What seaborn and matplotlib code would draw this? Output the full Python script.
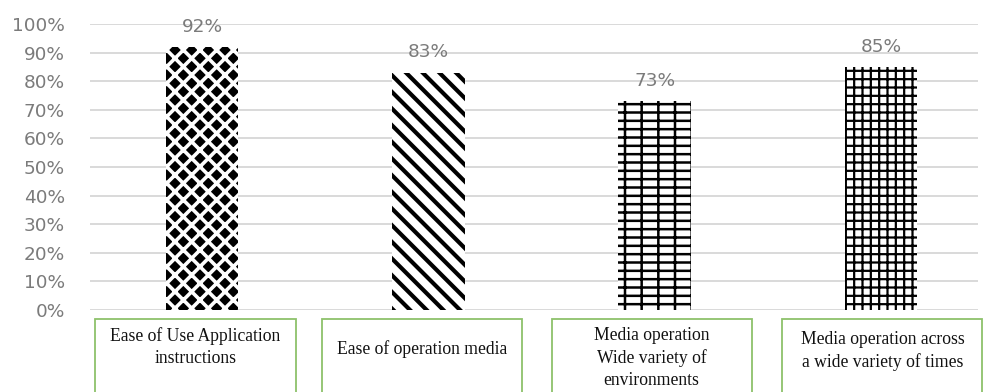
import matplotlib
matplotlib.use("Agg")
import matplotlib.pyplot as plt
import matplotlib.transforms as mtransforms
from matplotlib.patches import Rectangle
import seaborn as sns

# ---- data ----
categories = [
    "Ease of Use Application\ninstructions",
    "Ease of operation media",
    "Media operation\nWide variety of\nenvironments",
    "Media operation across\na wide variety of times",
]
values = [92, 83, 73, 85]
tick_values = [0, 10, 20, 30, 40, 50, 60, 70, 80, 90, 100]
tick_labels = [f"{v}%" for v in tick_values]

# ---- styles / layout ----
hatches = ["xx", "\\\\", "--|", "++"]
face_colors = ["black", "white", "white", "white"]
hatch_colors = ["white", "black", "black", "black"]
hatch_lws = [2.6, 3.0, 1.8, 1.6]
label_y = [-0.131, -0.136, -0.168, -0.143]
box_shift = [-0.03, -0.03, -0.013, 0.007]
GRAY = "#7b7b7b"
GREEN = "#8dc26b"

sns.set_theme(style="white")
plt.rcParams["font.family"] = ["DejaVu Sans"]

fig = plt.figure(figsize=(9.83, 3.92), dpi=100)
ax = fig.add_axes([0.0916, 0.2092, 0.9034, 0.7296])

sns.barplot(x=list(range(len(values))), y=values, color="white", width=0.32,
            ax=ax, saturation=1)

for p, h, fc, hc, lw in zip(ax.patches, hatches, face_colors, hatch_colors, hatch_lws):
    p.set_facecolor(fc)
    p.set_edgecolor(hc)
    p.set_linewidth(0)
    p.set_hatch(h)
    if hasattr(p, "set_hatchcolor"):
        p.set_hatchcolor(hc)
    if hasattr(p, "set_hatch_linewidth"):
        p.set_hatch_linewidth(lw)

ax.set_ylim(0, 100)
ax.set_xlim(-0.496, 3.43)
ax.set_yticks(tick_values)
ax.set_yticklabels(tick_labels, color=GRAY, fontsize=13.3)
ax.tick_params(axis="y", length=0, pad=18)
ax.set_xticks([])
ax.set_xlabel("")
ax.set_ylabel("")
for s in ax.spines.values():
    s.set_visible(False)
ax.yaxis.grid(True, color="#d9d9d9", linewidth=1.4)
ax.set_axisbelow(True)

# value labels
for i, v in enumerate(values):
    ax.annotate(f"{v}%", xy=(i, v), xytext=(0, 14.5), textcoords="offset points",
                ha="center", va="center", color=GRAY, fontsize=13.3)

# category boxes below axis
trans = mtransforms.blended_transform_factory(ax.transData, ax.transAxes)
box_w = 0.885
for i, cat in enumerate(categories):
    cx = i + box_shift[i]
    r = Rectangle((cx - box_w / 2, -0.40), box_w, 0.369, transform=trans,
                  facecolor="white", edgecolor=GREEN, linewidth=1.3,
                  clip_on=False)
    ax.add_patch(r)
    ax.text(cx, label_y[i], cat, transform=trans, ha="center", va="center",
            fontsize=12.7, family=["Liberation Serif"], color="#111111",
            linespacing=1.4)

fig.savefig("out.png", dpi=100)
